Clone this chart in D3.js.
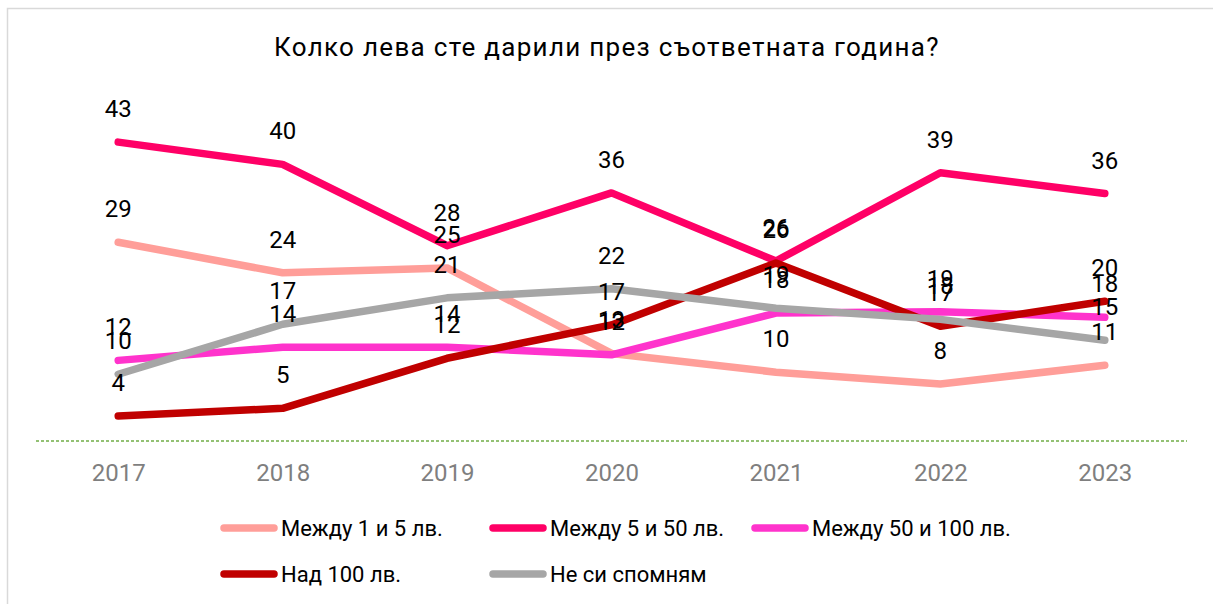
<!DOCTYPE html>
<html lang="bg">
<head>
<meta charset="utf-8">
<script src="https://cdn.jsdelivr.net/npm/d3@7"></script>
<style>
  html, body { margin: 0; padding: 0; background: #fff; }
  svg { display: block; font-family: "Roboto", "Noto Sans", sans-serif; }
</style>
</head>
<body>
<svg id="chart" width="1213" height="604"></svg>
<script>
const years = ["2017", "2018", "2019", "2020", "2021", "2022", "2023"];
const seriesNames = ["Между 1 и 5 лв.", "Между 5 и 50 лв.", "Между 50 и 100 лв.", "Над 100 лв.", "Не си спомням"];
const seriesColors = ["#FF9E99", "#FF0066", "#FF33CC", "#C00000", "#A6A6A6"];

// values (labels are rounded)
const between1and5 = [28.6, 24.2, 24.9, 12.6, 9.9, 8.2, 10.9];
const between5and50 = [43, 39.8, 28.1, 35.7, 25.9, 38.6, 35.6];
const between50and100 = [11.6, 13.5, 13.5, 12.4, 18.4, 18.6, 17.8];
const over100 = [3.6, 4.7, 11.9, 16.7, 25.6, 16.5, 20.1];
const dontRemember = [9.6, 16.8, 20.6, 21.9, 19.1, 17.5, 14.5];

const allValues = [between1and5, between5and50, between50and100, over100, dontRemember];

const svg = d3.select("#chart");

// frame
svg.append("rect")
    .attr("x", 7.5).attr("y", 8.5)
    .attr("width", 1300).attr("height", 700)
    .attr("fill", "none")
    .attr("stroke", "#D9D9D9")
    .attr("stroke-width", 1.5);

svg.append("text")
    .attr("x", 607).attr("y", 56)
    .attr("text-anchor", "middle")
    .attr("font-size", 26)
    .attr("letter-spacing", 1.3)
    .attr("fill", "#000")
    .text("Колко лева сте дарили през съответната година?");

const x = d3.scalePoint().domain(years).range([36, 1187]).padding(0.5);
const y = d3.scaleLinear().domain([0, 50]).range([441, 93.5]);

// baseline (dashed green)
svg.append("line")
    .attr("x1", 36).attr("x2", 1187)
    .attr("y1", y(0)).attr("y2", y(0))
    .attr("stroke", "#70AD47")
    .attr("stroke-width", 1.5)
    .attr("stroke-dasharray", "3,2");

const xAxis = svg.append("g")
    .attr("transform", `translate(0,${y(0)})`)
    .call(d3.axisBottom(x).tickSize(0).tickPadding(23));
xAxis.select(".domain").remove();
xAxis.selectAll("text")
    .attr("font-family", "Roboto, sans-serif")
    .attr("font-size", 24)
    .attr("fill", "#7F7F7F");

const line = d3.line()
    .x((d, i) => x(years[i]))
    .y(d => y(d));

svg.append("g").selectAll("path")
    .data(allValues)
    .join("path")
    .attr("d", d => line(d))
    .attr("fill", "none")
    .attr("stroke", (d, i) => seriesColors[i])
    .attr("stroke-width", 7.5)
    .attr("stroke-linecap", "round")
    .attr("stroke-linejoin", "round");

// data labels above points
const labels = [];
allValues.forEach((vals, s) => vals.forEach((v, i) => labels.push({ s, i, v })));
svg.append("g").selectAll("text")
    .data(labels)
    .join("text")
    .attr("x", d => x(years[d.i]))
    .attr("y", d => y(d.v) - 25)
    .attr("text-anchor", "middle")
    .attr("font-size", 24)
    .attr("fill", "#000")
    .text(d => d3.format(".0f")(d.v));

// legend
const legendPos = [[221, 528], [490, 528], [752, 528], [221, 574], [490, 574]];
const legend = svg.append("g").selectAll("g")
    .data(seriesNames)
    .join("g")
    .attr("transform", (d, i) => `translate(${legendPos[i][0]},${legendPos[i][1]})`);
legend.append("line")
    .attr("x1", 3).attr("x2", 53)
    .attr("stroke", (d, i) => seriesColors[i])
    .attr("stroke-width", 7.5)
    .attr("stroke-linecap", "round");
legend.append("text")
    .attr("x", 60).attr("y", 7.5)
    .attr("font-size", 22)
    .attr("fill", "#000")
    .text(d => d);
</script>
</body>
</html>
